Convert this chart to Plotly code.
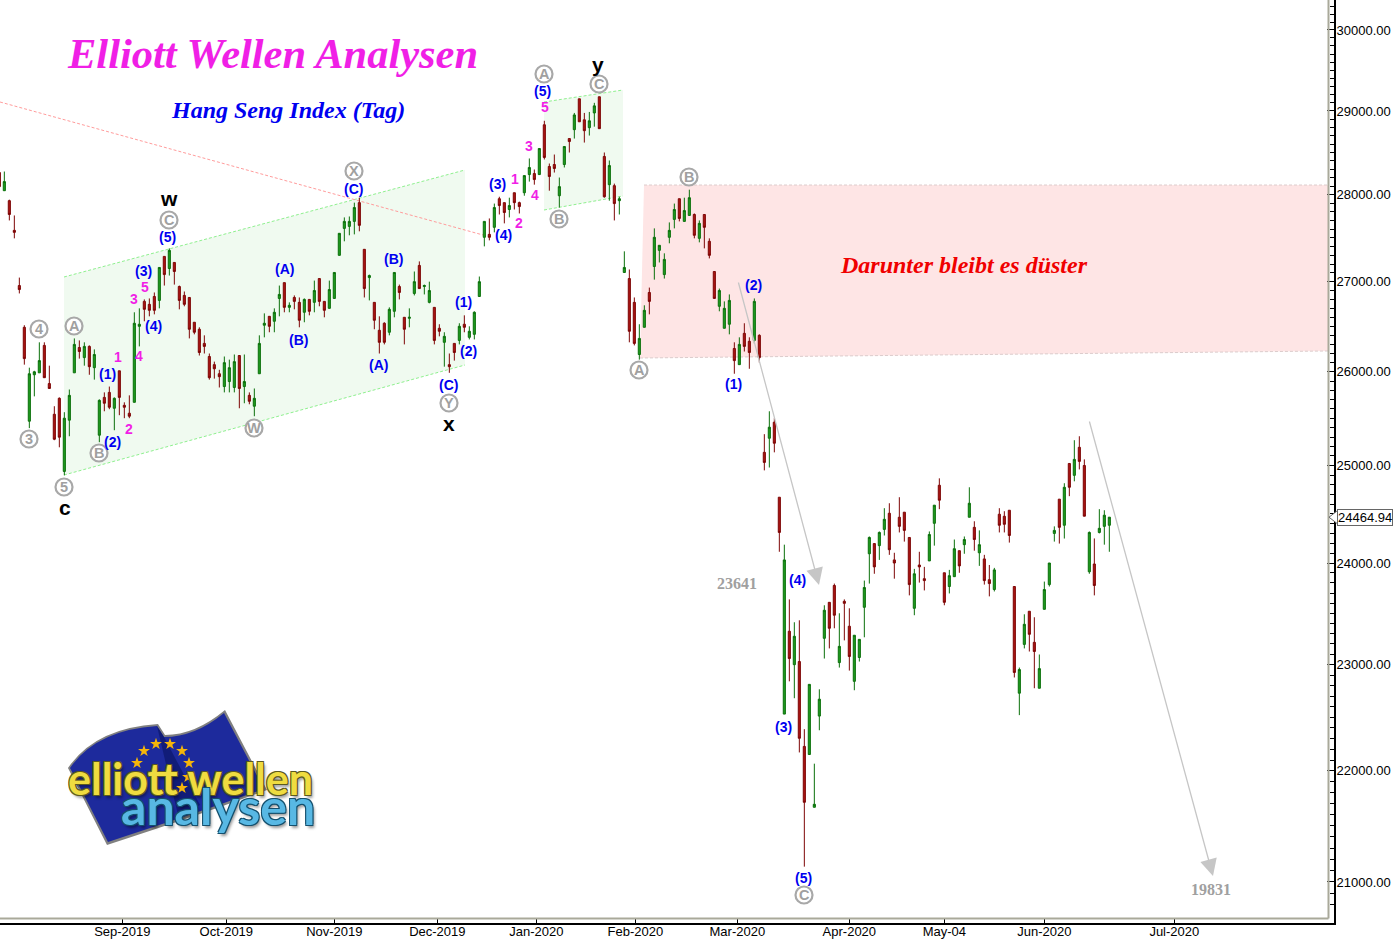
import plotly.graph_objects as go
import re, math

# ---------- data: daily bars ----------
first_bar = -1
bar_dir = ("rgrrrrgggr" "rrrgggrgrg" "grrgrrrggr" "rrgrgrrrrr" "rrrrrgggrg" "rgggrggrgr"
           "rgrgrrgggg" "ggrrgrrrgg" "rrggrggrrg" "rrgrggggrg" "rrgrrggrgr" "rrggrgrrgg"
           "rrgrggrrgg" "rgggggrggr" "grrrgggrgr" "rgrrgrrgrg" "rrggggrrgr" "rggggrggrr"
           "rrrgrrggrr" "ggrggrgrrg" "rrrrggrrgg" "ggrgrgrrgr" "ggg")
bar_high = [28262,28274,27943,27759,27046,26512,26045,26011,26323,26323,
 26067,25628,25723,25564,25808,26366,26344,26323,26289,26245,
 25702,25777,25840,25723,26011,25670,25745,26656,26700,26800,
 26811,26878,27161,27287,27379,27218,26956,26889,26822,26545,
 26489,26400,26200,26111,26022,26167,26133,26189,26178,26189,
 25777,25819,26400,26644,26611,26700,26956,26989,26767,26845,
 26822,26811,26800,27012,27035,26778,27012,27104,27552,27736,
 27747,27908,27966,27368,27080,26767,26611,26545,26711,27104,
 26967,26600,26700,27115,27230,26967,27000,26711,26523,26434,
 26200,26311,26534,26622,26500,26667,27058,27690,27724,27897,
 27977,27908,27966,28024,27920,28226,28429,28298,28548,28881,
 28369,28476,28203,28572,28667,28976,29148,28976,28988,29099,
 29173,28500,28405,28131,27977,27345,27138,26822,26523,26734,
 26933,27609,27414,27322,27678,27897,27954,27966,28060,27782,
 27701,27770,27494,27115,26922,26778,26856,26323,26378,26534,
 26378,26811,26411,25330,25574,25500,24670,24185,23637,23412,
 23431,22387,22811,22066,22764,23579,23608,23794,23500,23637,
 23549,23285,23245,23824,24268,24196,24319,24557,24608,24103,
 24670,24516,24258,23941,24113,23961,24319,24588,24866,23902,
 23931,24237,24124,24268,24773,24423,24330,24082,23980,23951,
 24557,24526,24536,23765,22972,23490,23520,23461,23098,23814,
 24000,24371,24650,24815,25021,25266,25308,25064,24319,24248,
 24547,24536,24465]
bar_top = [28262,28155,27931,27586,26956,26489,25979,26000,26122,26289,
 25872,25542,25713,25500,25745,26300,26266,26278,26278,26189,
 25691,25723,25777,25713,26011,25638,25553,26534,26523,26778,
 26745,26833,27161,27287,27356,27218,26945,26845,26822,26545,
 26467,26311,26167,26078,25979,26100,26045,26111,26178,25894,
 25745,25713,26311,26534,26611,26656,26856,26989,26734,26822,
 26767,26800,26800,26900,27035,26778,26911,27104,27552,27690,
 27690,27851,27908,27368,27069,26767,26456,26534,26689,27104,
 26945,26600,26600,27000,27184,26956,26900,26711,26478,26389,
 26078,26311,26500,26523,26445,26656,27000,27690,27540,27851,
 27954,27908,27874,28024,27908,28226,28322,28250,28548,28833,
 28334,28357,28096,28572,28667,28952,29148,28893,28881,29062,
 29173,28453,28345,28107,27954,27161,27035,26767,26366,26678,
 26878,27506,27414,27253,27586,27828,27954,27816,27966,27770,
 27667,27770,27460,27115,26900,26700,26789,26255,26300,26422,
 26334,26778,26400,25138,25404,25457,24670,24031,23324,23275,
 23030,22226,22811,21694,22670,23530,23608,23775,23177,23618,
 23373,23285,23245,23755,24258,24196,24309,24443,24505,24031,
 24464,24516,24258,23892,23980,23843,24288,24588,24794,23902,
 23873,24144,24124,24237,24608,24361,24185,24041,23833,23931,
 24495,24474,24536,23765,22953,23392,23520,23216,22962,23735,
 24000,24330,24650,24773,25021,25064,25191,25000,24309,23990,
 24351,24485,24465]
bar_bottom = [28096,28048,27770,27563,26911,26144,25468,25968,25989,25936,
 25819,25276,25298,24938,25479,25989,26222,26155,26056,26045,
 25319,25660,25617,25606,25723,25617,25521,25670,26500,26689,
 26678,26678,26789,27080,27149,27115,26789,26745,26467,26434,
 26211,26278,25936,26033,25947,25840,25894,25830,25819,25840,
 25681,25628,25979,26512,26500,26556,26811,26711,26711,26778,
 26567,26656,26667,26767,26778,26678,26700,26811,27299,27609,
 27632,27690,27644,26922,27046,26567,26323,26323,26434,26667,
 26878,26467,26589,26867,26922,26945,26767,26344,26445,26323,
 26056,26211,26344,26489,26378,26411,26833,27506,27506,27621,
 27874,27793,27828,27908,27862,28024,28238,28179,28238,28441,
 28215,28310,27989,28357,28631,28774,28869,28762,28798,28976,
 28786,27977,28119,27897,27931,27104,26445,26311,26189,26489,
 26778,27172,27356,27080,27506,27713,27724,27690,27759,27529,
 27494,27621,27299,26811,26723,26478,26523,26122,26078,26278,
 26211,26344,26155,25032,25287,25234,24309,22529,23059,23000,
 22302,21712,22151,21667,22510,23255,23353,23481,23020,23598,
 23079,22840,23069,23559,24093,23961,24175,24340,24134,24000,
 24371,24330,23784,23549,23961,23824,24021,24402,24639,23608,
 23765,23863,23971,24185,24464,24237,24103,23824,23794,23735,
 24382,24392,24278,22925,22727,23196,23294,23127,22774,23539,
 23784,24299,24361,24382,24773,24897,25043,24475,23912,23775,
 24309,24371,24382]
bar_low = [28096,28048,27701,27494,26867,26078,25394,25734,25989,25936,
 25819,25266,25191,24897,25308,25989,26144,26067,25968,25915,
 25245,25574,25596,25372,25532,25500,25500,25670,26278,26556,
 26611,26633,26700,26956,27069,26967,26689,26723,26366,26411,
 26178,26200,25915,25926,25830,25777,25777,25777,25606,25660,
 25649,25521,25979,26378,26434,26434,26611,26656,26656,26689,
 26489,26545,26622,26656,26723,26600,26700,26811,27299,27460,
 27529,27540,27575,26822,26789,26467,26200,26300,26400,26600,
 26800,26300,26489,26845,26922,26856,26756,26300,26389,26056,
 25989,26122,26300,26434,26355,26355,26833,27402,27471,27563,
 27770,27667,27736,27828,27782,27989,28155,28119,28238,28417,
 28048,28262,27851,28322,28500,28667,28869,28619,28703,28810,
 28786,27966,27931,27701,27770,27104,26323,26289,26133,26489,
 26633,27023,27218,27035,27437,27609,27690,27690,27759,27494,
 27448,27379,27264,26811,26667,26478,26411,25979,26078,26222,
 26033,26311,26100,24949,24979,25138,24113,22529,22840,22679,
 22170,21135,22151,21667,22377,23059,23157,23353,22972,23235,
 22943,22755,23030,23265,23794,23892,24031,24278,24082,23843,
 24309,24216,23677,23481,23804,23726,24021,24175,24547,23579,
 23696,23863,23902,24093,24464,24124,23971,23784,23667,23716,
 24309,24309,24206,22877,22519,23157,23127,22774,22774,23539,
 23765,24216,24196,24247,24681,24835,24959,24475,23892,23677,
 24299,24185,24113]
last_price = 24464.94

y_tick_values = [30000, 29000, 28000, 27000, 26000, 25000, 24000, 23000, 22000, 21000]
x_tick_bars = [23.6, 44.4, 66, 86.6, 106.4, 126.2, 146.6, 169, 188, 208, 234]
x_tick_labels = ["Sep-2019", "Oct-2019", "Nov-2019", "Dec-2019", "Jan-2020", "Feb-2020",
                 "Mar-2020", "Apr-2020", "May-04", "Jun-2020", "Jul-2020"]

# ---------- plot geometry ----------
W, H = 1394, 939
PX_R, PX_B = 1334, 923          # right and bottom edge of plotting area
def fx(px): return px / PX_R
def fy(py): return 1 - py / PX_B
def dx(px): return (px - 4.33) / 5                      # screen x -> bar axis
def dy(py): return 10 ** (4.47712 - (py - 30) / 5500)   # screen y -> price axis
def py_of(price): return 30 + 5500 * (4.47712 - math.log10(price))
def path(s):
    """'M x y L x y ...' in screen pixels -> paper-fraction SVG path."""
    tok = re.findall(r"[A-Za-z]|-?\d+\.?\d*", s)
    out, is_x = [], True
    for t in tok:
        if t.isalpha():
            out.append(t); is_x = True
        else:
            out.append(f"{fx(float(t)):.5f}" if is_x else f"{fy(float(t)):.5f}")
            is_x = not is_x
    return " ".join(out)

bars = list(range(first_bar, first_bar + len(bar_high)))
opens  = [b if d == "g" else t for d, t, b in zip(bar_dir, bar_top, bar_bottom)]
closes = [t if d == "g" else b for d, t, b in zip(bar_dir, bar_top, bar_bottom)]

fig = go.Figure()
fig.add_trace(go.Candlestick(
    x=bars, open=opens, high=bar_high, low=bar_low, close=closes,
    increasing=dict(line=dict(color="#0b700b", width=1), fillcolor="#1f9a1f"),
    decreasing=dict(line=dict(color="#7e0606", width=1), fillcolor="#aa1512"),
    whiskerwidth=0, hoverinfo="skip", showlegend=False))
# logo stars
star_px = [(156,744),(170,744),(182,751),(144,751),(189,763),(137,763),(188,777),(182,788)]
fig.add_trace(go.Scatter(
    x=[dx(p[0]) for p in star_px], y=[dy(p[1]) for p in star_px], mode="markers", showlegend=False, hoverinfo="skip",
    marker=dict(symbol="star", size=9, color="#f5b50a", line=dict(width=0))))

shapes, ann = [], []

def poly(d, fill, layer="below"):
    shapes.append(dict(type="path", xref="paper", yref="paper", path=path(d), fillcolor=fill,
                       line=dict(width=0), layer=layer))
def seg(x0, y0, x1, y1, color, dash="3px,2px", width=1, layer="below"):
    shapes.append(dict(type="line", xref="paper", yref="paper", x0=fx(x0), y0=fy(y0), x1=fx(x1), y1=fy(y1),
                       line=dict(color=color, width=width, dash=dash), layer=layer))

# zones and channels
poly("M 64 277 L 465 170 L 465 365 L 64 475 Z", "#f0faf0")
seg(64, 277, 465, 170, "#8ff08f"); seg(64, 475, 465, 365, "#8ff08f")
poly("M 544 102 L 623 90 L 623 196 L 544 210 Z", "#f0faf0")
seg(544, 102, 623, 90, "#8ff08f"); seg(544, 210, 623, 196, "#8ff08f")
poly("M 644 185 L 1328 185 L 1328 351 L 640 358 Z", "#fee5e5")
seg(644, 185, 1328, 185, "#dccccc"); seg(640, 358, 1328, 351, "#dccccc")
seg(0, 102, 483, 235, "#ff9c9c")
# frame inside the axes
seg(1328.5, 0, 1328.5, 918.5, "#a9a99a", "solid", 2, "above")
seg(0, 918.5, 1328.5, 918.5, "#a9a99a", "solid", 2, "above")

def text(px, py, s, color, size, bold=True, italic=False, family="Liberation Sans", **font):
    ann.append(dict(xref="paper", yref="paper", x=fx(px), y=fy(py), text=s, showarrow=False,
                    xanchor="center", yanchor="middle",
                    font=dict(family=family, size=size, color=color,
                              weight="bold" if bold else "normal",
                              style="italic" if italic else "normal", **font)))

SERIF = "Liberation Serif"
text(272, 53, "Elliott Wellen Analysen", "#f01fe6", 42.5, italic=True, family=SERIF)
text(288, 110, "Hang Seng Index (Tag)", "#0000f0", 24, italic=True, family=SERIF)
text(964, 265, "Darunter bleibt es düster", "#f00000", 24, italic=True, family=SERIF)
text(737, 583, "23641", "#a0a0a0", 16, family=SERIF)
text(1211, 889, "19831", "#a0a0a0", 16, family=SERIF)

for px, py, s in [(168,237,"(5)"),(144,271,"(3)"),(154,326,"(4)"),(109,374,"(1)"),(114,442,"(2)"),
                  (285,269,"(A)"),(299,340,"(B)"),(354,189,"(C)"),(394,259,"(B)"),(379,365,"(A)"),
                  (464,302,"(1)"),(469,351,"(2)"),(449,385,"(C)"),(498,184,"(3)"),(504,235,"(4)"),
                  (543,91,"(5)"),(754,285,"(2)"),(734,384,"(1)"),(798,580,"(4)"),(784,727,"(3)"),
                  (804,878,"(5)")]:
    text(px - 1, py, s, "#0000f0", 14)
for px, py, s in [(118,357,"1"),(134,299,"3"),(145,287,"5"),(139,356,"4"),(129,429,"2"),
                  (515,179,"1"),(529,146,"3"),(545,107,"5"),(535,195,"4"),(519,223,"2")]:
    text(px, py, s, "#f01fe6", 14)
for px, py, s in [(169,201,"w"),(65,509,"c"),(449,425,"x"),(598,66,"y")]:
    text(px, py - 2, s, "#000000", 21)
for px, py, s in [(29,439,"3"),(39,329,"4"),(64,487,"5"),(74,326,"A"),(99,453,"B"),(169,220,"C"),
                  (254,428,"W"),(354,171,"X"),(449,403,"Y"),(544,74,"A"),(599,84,"C"),(559,219,"B"),
                  (689,177,"B"),(639,370,"A"),(804,895,"C")]:
    shapes.append(dict(type="circle", xref="paper", yref="paper", x0=fx(px-8.5), x1=fx(px+8.5), y0=fy(py+8.5), y1=fy(py-8.5),
                       fillcolor="white", line=dict(color="#a8a8a8", width=2.2), layer="above"))
    text(px, py, s, "#a0a0a0", 14.5)

# grey projection arrows
for x0, y0, x1, y1 in [(738, 281, 819, 585), (1089, 420, 1213, 876)]:
    ann.append(dict(xref="paper", yref="paper", x=fx(x1), y=fy(y1), ax=x0 - x1, ay=y0 - y1, text="",
                    showarrow=True, arrowhead=2, arrowsize=2.6, arrowwidth=1.3, arrowcolor="#c6c6c6"))

# last price callout: pointer plus boxed value
lp = py_of(last_price)
shapes.append(dict(type="path", xref="paper", yref="paper", fillcolor="white", layer="above",
                   line=dict(color="#666666", width=1),
                   path=path(f"M 1338 {lp-7:.1f} L 1329 {lp:.1f} L 1338 {lp+7:.1f} Z")))
ann.append(dict(xref="paper", yref="y", x=fx(1337), y=math.log10(last_price), xanchor="left",
                yanchor="middle", text=f"{last_price:.2f}", showarrow=False, bgcolor="white",
                bordercolor="#666666", borderwidth=1, borderpad=0,
                font=dict(family="Liberation Sans", size=13, color="black")))

# logo
poly("M 68 768 Q 95 728 158 724 L 165 735 Q 195 735 225 710 L 267 790 Q 200 815 107 845 Z", "#808080")
poly("M 70 768 Q 96 730 157 726 L 164 737 Q 195 737 224 713 L 264 789 Q 200 812 108 842 Z", "#1d2a9c")
poly("M 157 726 L 164 737 L 200 805 L 178 815 Z", "#111c78")
OUT_Y = "-1px -1px 0 #5c5a20, 1px -1px 0 #5c5a20, -1px 1px 0 #5c5a20, 1px 1px 0 #5c5a20, 2px 3px 3px #00000066"
OUT_B = "-1px -1px 0 #14506e, 1px -1px 0 #14506e, -1px 1px 0 #14506e, 1px 1px 0 #14506e, 2px 3px 3px #00000066"
text(190, 778, "elliott wellen", "#efdc40", 43, family="Lato", shadow=OUT_Y)
text(218, 806, "analysen", "#58b8e4", 50, family="Lato", shadow=OUT_B)

fig.update_layout(
    width=W, height=H, autosize=False, paper_bgcolor="white", plot_bgcolor="white",
    margin=dict(l=0, r=W - PX_R, t=0, b=H - PX_B, pad=0), showlegend=False,
    shapes=shapes, annotations=ann, boxgap=0.4,
    font=dict(family="Liberation Sans", size=13, color="black"),
    xaxis=dict(range=[dx(0), dx(PX_R)], rangeslider=dict(visible=False), showgrid=False, zeroline=False, automargin=False,
               tickmode="array", tickvals=x_tick_bars, ticktext=x_tick_labels, ticks="inside", ticklen=5,
               tickcolor="black", showline=True, linecolor="black", linewidth=2, ticklabelstandoff=-5),
    yaxis=dict(type="log", side="right", range=[4.47712 - 893 / 5500, 4.47712 + 30 / 5500], showgrid=False, zeroline=False, automargin=False,
               tickmode="array", tickvals=y_tick_values, ticktext=[f"{v:.2f}" for v in y_tick_values],
               ticks="inside", ticklen=7, tickcolor="black", showline=True, linecolor="black", linewidth=2, ticklabelstandoff=-2,
               minor=dict(tickmode="array", tickvals=list(range(20800, 30400, 100)), ticks="inside", ticklen=4, tickcolor="black")),
)
fig.write_html("out.html", config={"displayModeBar": False},
               post_script="document.body.style.margin='0';document.body.style.overflow='hidden';")
